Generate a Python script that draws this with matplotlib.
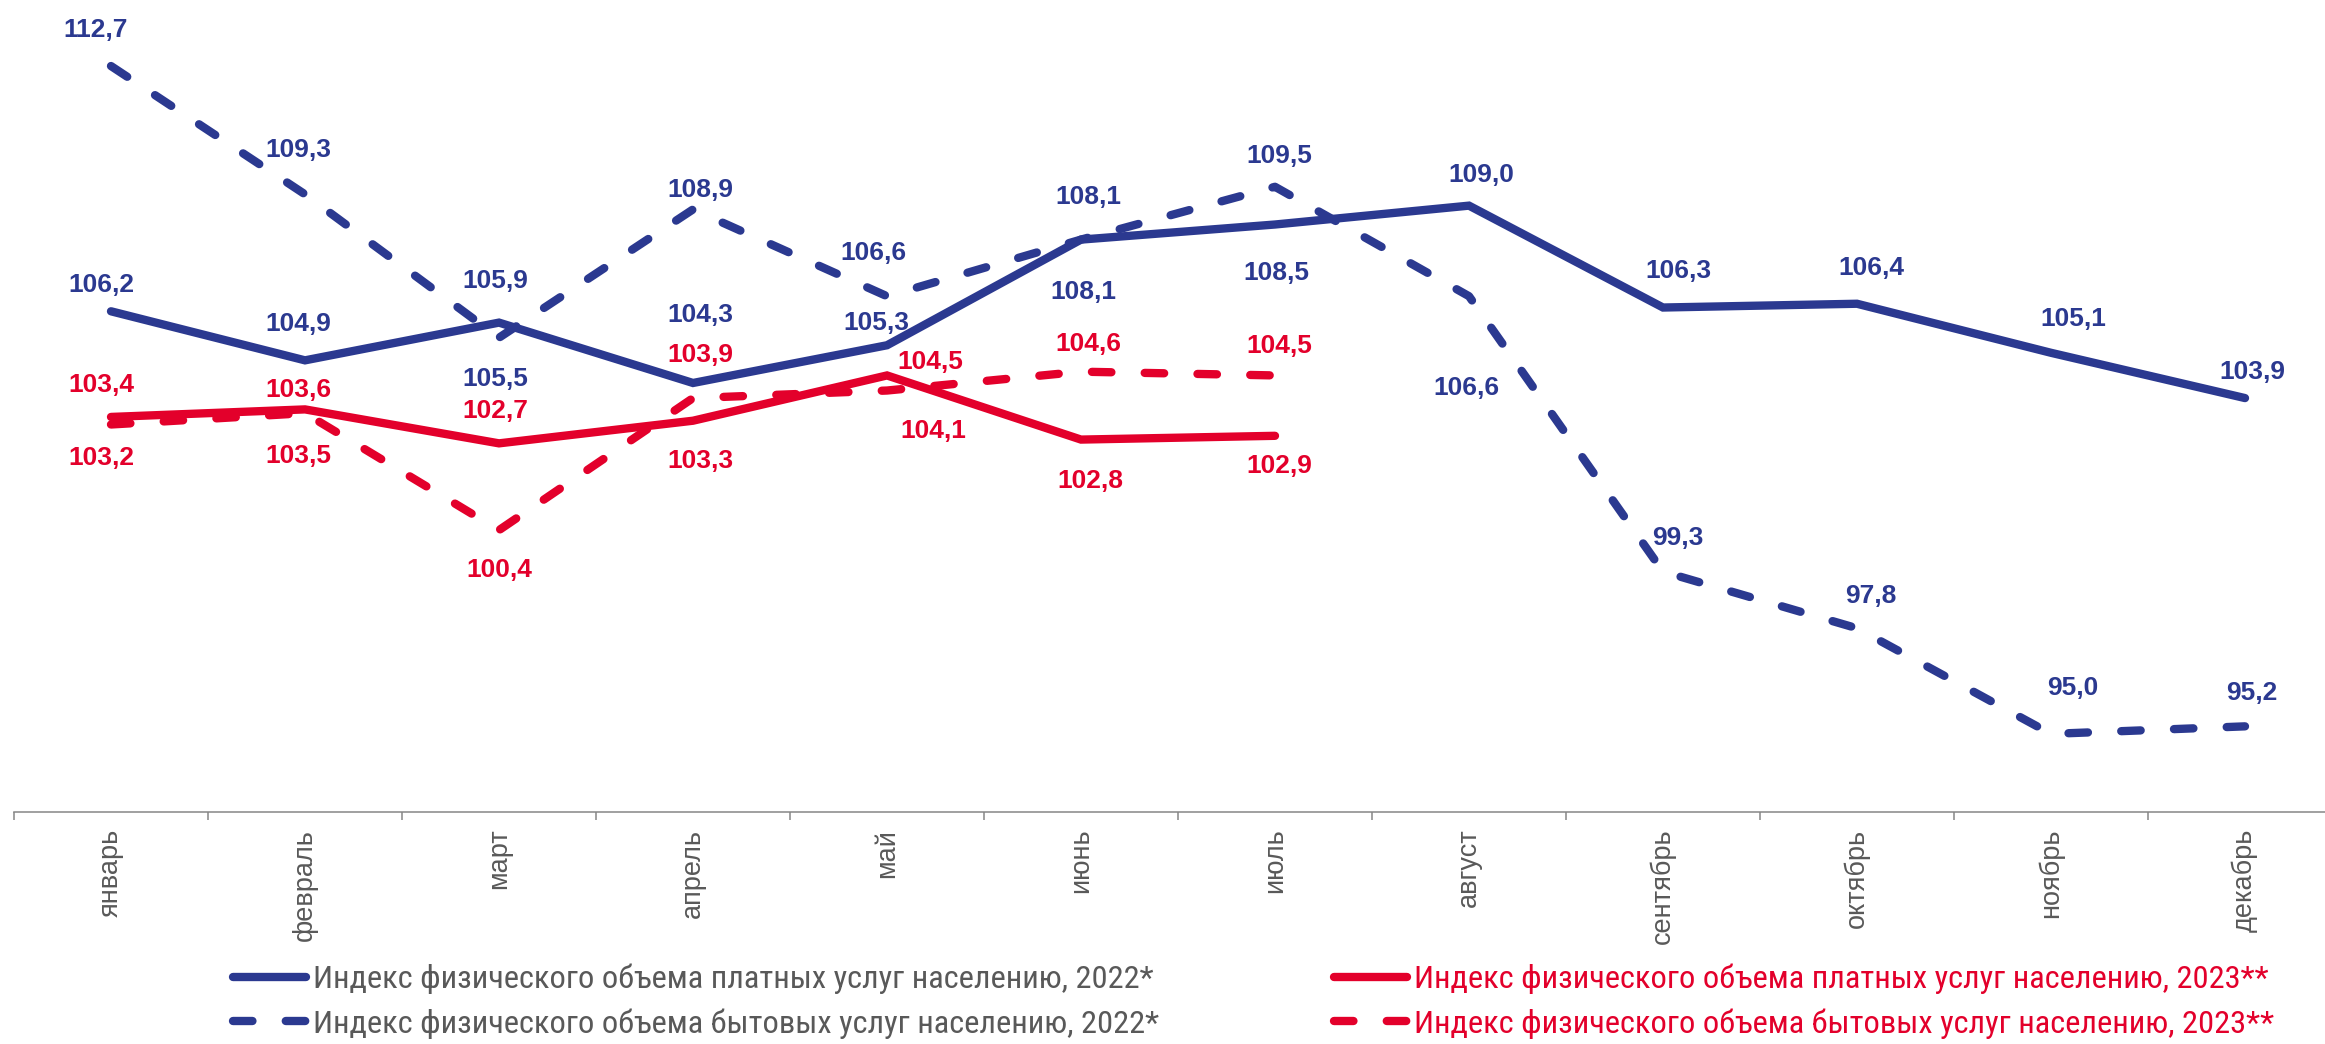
import matplotlib

matplotlib.use("Agg")
import matplotlib.pyplot as plt
from matplotlib.lines import Line2D
import numpy as np

months = ["январь", "февраль", "март", "апрель", "май", "июнь", "июль",
          "август", "сентябрь", "октябрь", "ноябрь", "декабрь"]

paid_2022 = [106.2, 104.9, 105.9, 104.3, 105.3, 108.1, 108.5, 109.0, 106.3, 106.4, 105.1, 103.9]
household_2022 = [112.7, 109.3, 105.5, 108.9, 106.6, 108.1, 109.5, 106.6, 99.3, 97.8, 95.0, 95.2]
paid_2023 = [103.4, 103.6, 102.7, 103.3, 104.5, 102.8, 102.9]
household_2023 = [103.2, 103.5, 100.4, 103.9, 104.1, 104.6, 104.5]

labels = [
    "Индекс физического объема платных услуг населению, 2022*",
    "Индекс физического объема бытовых услуг населению, 2022*",
    "Индекс физического объема платных услуг населению, 2023**",
    "Индекс физического объема бытовых услуг населению, 2023**",
]

# label offsets in points (dx, dy) from each point
off_paid_2022 = [(-7, 19), (-5, 26), (-3, 30), (5, 49), (-8, 16), (2, -38),
                 (1, -35), (9, 22), (11, 26), (10, 26), (16, 24), (5, 19)]
off_house_2022 = [(-11, 26), (-5, 32), (-3, -30), (5, 14), (-10, 31), (5, 31),
                  (3, 22), (-2, -66), (11, 24), (10, 23), (16, 33), (5, 24)]
off_paid_2023 = [(-7, 23), (-5, 14), (-3, 23), (5, -29), (31, 10), (7, -30), (3, -22)]
off_house_2023 = [(-7, -24), (-5, -31), (0, -29), (5, 31), (33, -29), (5, 20), (3, 21)]

BLUE = "#2B3990"
RED = "#E3002B"
GRAY = "#595959"
LW = 6
DASH = (0, (14, 24))

plt.rcParams["lines.scale_dashes"] = False
plt.rcParams["font.family"] = ["Liberation Sans", "DejaVu Sans"]

fig = plt.figure(figsize=(23.25, 10.44), dpi=100)
ax = fig.add_axes([14 / 2325, 1 - 812 / 1044, 2328 / 2325, 812 / 1044])

x22 = np.arange(len(months))
x23 = np.arange(len(paid_2023))

series = [
    (x22, paid_2022, BLUE, "-", off_paid_2022),
    (x22, household_2022, BLUE, DASH, off_house_2022),
    (x23, paid_2023, RED, "-", off_paid_2023),
    (x23, household_2023, RED, DASH, off_house_2023),
]

for xs, ys, color, ls, offs in series:
    ax.plot(xs, ys, color=color, linestyle=ls, linewidth=LW,
            solid_capstyle="round", dash_capstyle="round", solid_joinstyle="miter")
    for xi, yi, (dx, dy) in zip(xs, ys, offs):
        ax.annotate(f"{yi:.1f}".replace(".", ","), (xi, yi), xytext=(dx, dy),
                    textcoords="offset points", ha="center", va="center",
                    fontsize=19, fontweight="bold", color=color)

ax.set_xlim(-0.5, 11.5)
ax.set_ylim(92.93, 114.45)
for side in ("top", "right", "left"):
    ax.spines[side].set_visible(False)
ax.spines["bottom"].set_color("#868686")
ax.spines["bottom"].set_linewidth(1.1)
ax.set_yticks([])
ax.set_xticks(x22)
ax.set_xticklabels(months, rotation=90, va="top", ha="center", fontsize=19.5, color=GRAY)
ax.tick_params(axis="x", which="major", length=0, pad=12)
ax.set_xticks(np.arange(-0.5, 12, 1), minor=True)
ax.tick_params(axis="x", which="minor", length=6, width=1.1, color="#868686", direction="out")

h = [Line2D([], [], color=BLUE, lw=LW, solid_capstyle="round"),
     Line2D([], [], color=BLUE, lw=LW, linestyle=DASH, dash_capstyle="round"),
     Line2D([], [], color=RED, lw=LW, solid_capstyle="round"),
     Line2D([], [], color=RED, lw=LW, linestyle=DASH, dash_capstyle="round")]

legend_font = {"family": ["Roboto Condensed", "DejaVu Sans"], "size": 23.4}
leg_a = fig.legend(h[:2], labels[:2], loc="upper left", bbox_to_anchor=(233 / 2325, 1 - 964 / 1044),
                   frameon=False, prop=legend_font, handlelength=2.25, handletextpad=0.2,
                   labelspacing=0.42, borderpad=0, borderaxespad=0)
for t in leg_a.get_texts():
    t.set_color(GRAY)
leg_b = fig.legend(h[2:], labels[2:], loc="upper left", bbox_to_anchor=(1334 / 2325, 1 - 964 / 1044),
                   frameon=False, prop=legend_font, handlelength=2.25, handletextpad=0.2,
                   labelspacing=0.42, borderpad=0, borderaxespad=0)
for t in leg_b.get_texts():
    t.set_color(RED)

fig.savefig("out.png", dpi=100)
